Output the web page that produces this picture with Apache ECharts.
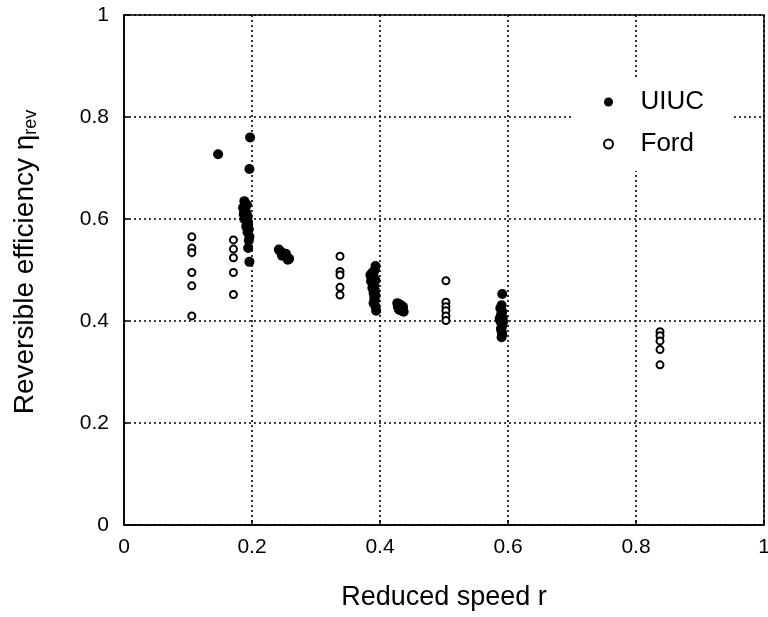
<!DOCTYPE html>
<html>
<head>
<meta charset="utf-8">
<script src="https://cdn.jsdelivr.net/npm/echarts@6/dist/echarts.min.js"></script>
<style>html,body{margin:0;padding:0;background:#fff}#c{width:768px;height:617px}</style>
</head>
<body>
<div id="c"></div>
<script>
// UIUC measurements [reduced speed r, reversible efficiency]
var uiucIsolated = [[0.147,0.727],[0.197,0.760],[0.196,0.698]];
var uiucR019 = [[0.188,0.635],[0.190,0.630],[0.192,0.628],[0.186,0.622],[0.190,0.625],[0.189,0.618],[0.191,0.612],[0.187,0.610],[0.193,0.606],[0.193,0.602],[0.188,0.600],[0.192,0.595],[0.194,0.590],[0.191,0.585],[0.195,0.580],[0.193,0.574],[0.196,0.565],[0.195,0.558],[0.194,0.543],[0.196,0.516]];
var uiucR025 = [[0.242,0.540],[0.245,0.536],[0.248,0.533],[0.253,0.532],[0.250,0.530],[0.247,0.528],[0.252,0.527],[0.255,0.525],[0.258,0.522],[0.256,0.520]];
var uiucR039 = [[0.393,0.508],[0.392,0.500],[0.388,0.495],[0.389,0.492],[0.385,0.490],[0.390,0.488],[0.387,0.482],[0.393,0.480],[0.386,0.478],[0.389,0.475],[0.391,0.470],[0.388,0.465],[0.392,0.460],[0.390,0.455],[0.393,0.450],[0.391,0.445],[0.392,0.440],[0.390,0.435],[0.393,0.428],[0.394,0.420]];
var uiucR043 = [[0.427,0.435],[0.430,0.433],[0.433,0.431],[0.428,0.428],[0.436,0.428],[0.432,0.426],[0.429,0.425],[0.435,0.424],[0.430,0.422],[0.434,0.420],[0.437,0.418]];
var uiucR059 = [[0.591,0.453],[0.590,0.431],[0.588,0.425],[0.591,0.418],[0.589,0.412],[0.592,0.406],[0.587,0.405],[0.588,0.400],[0.592,0.397],[0.590,0.395],[0.591,0.390],[0.589,0.385],[0.590,0.380],[0.591,0.374],[0.590,0.368]];

// Ford measurements
var fordR011 = [[0.106,0.565],[0.106,0.543],[0.106,0.534],[0.106,0.495],[0.106,0.469],[0.106,0.410]];
var fordR017 = [[0.171,0.559],[0.171,0.541],[0.171,0.524],[0.171,0.495],[0.171,0.452]];
var fordR034 = [[0.3375,0.527],[0.3375,0.497],[0.3375,0.490],[0.3375,0.466],[0.3375,0.451]];
var fordR050 = [[0.503,0.479],[0.503,0.437],[0.503,0.428],[0.503,0.420],[0.503,0.410],[0.503,0.401]];
var fordR084 = [[0.8375,0.379],[0.8375,0.371],[0.8375,0.361],[0.8375,0.344],[0.8375,0.314]];

var seriesNames = ['UIUC','Ford'];
var xTitle = 'Reduced speed r';
var yTitle = 'Reversible efficiency \u03b7{sub|rev}';

var uiucData = [].concat(uiucIsolated, uiucR019, uiucR025, uiucR039, uiucR043, uiucR059);
var fordData = [].concat(fordR011, fordR017, fordR034, fordR050, fordR084);

var font = 'Liberation Sans, Arial, Helvetica, sans-serif';
var chart = echarts.init(document.getElementById('c'), null, {renderer:'canvas'});
var gridLine = {show:true, lineStyle:{color:'#000', type:[2,3], width:1.6}};
chart.setOption({
  animation:false,
  backgroundColor:'#fff',
  grid:{left:124, right:4, top:15, bottom:92, containLabel:false, outerBoundsMode:'none',
    show:true, borderColor:'#000', borderWidth:1.5, backgroundColor:'transparent'},
  xAxis:{type:'value', min:0, max:1, interval:0.2,
    name:xTitle, nameLocation:'middle', nameGap:59,
    nameTextStyle:{fontFamily:font, fontSize:27, color:'#000'},
    axisLine:{show:true, lineStyle:{color:'#000', width:1.5}},
    axisTick:{show:true, inside:true, length:5, lineStyle:{color:'#000', width:1.5}},
    axisLabel:{fontFamily:font, fontSize:21, color:'#000', margin:12},
    splitLine:gridLine},
  yAxis:{type:'value', min:0, max:1, interval:0.2,
    name:yTitle, nameLocation:'middle', nameGap:84, nameRotate:90,
    nameTextStyle:{fontFamily:font, fontSize:28, color:'#000', padding:[0,0,0,16],
      rich:{sub:{fontFamily:font, fontSize:18, color:'#000', padding:[12,0,0,0]}}},
    axisLine:{show:true, lineStyle:{color:'#000', width:1.5}},
    axisTick:{show:true, inside:true, length:5, lineStyle:{color:'#000', width:1.5}},
    axisLabel:{fontFamily:font, fontSize:21, color:'#000', margin:15},
    splitLine:gridLine},
  legend:{orient:'vertical', left:573, top:79, backgroundColor:'#fff',
    padding:[10,28,14,30], itemWidth:54, itemHeight:9, itemGap:16,
    textStyle:{fontFamily:font, fontSize:26, color:'#000', lineHeight:24},
    data:[{name:seriesNames[0], icon:'circle'},{name:seriesNames[1], icon:'emptyCircle'}]},
  series:[
    {name:seriesNames[0], type:'scatter', symbol:'circle', symbolSize:10, data:uiucData,
      itemStyle:{color:'#000', opacity:1}, z:3},
    {name:seriesNames[1], type:'scatter', symbol:'emptyCircle', symbolSize:7, data:fordData,
      itemStyle:{color:'#000', borderColor:'#000', borderWidth:1.7, opacity:1}, z:3}
  ]
});
</script>
</body>
</html>
